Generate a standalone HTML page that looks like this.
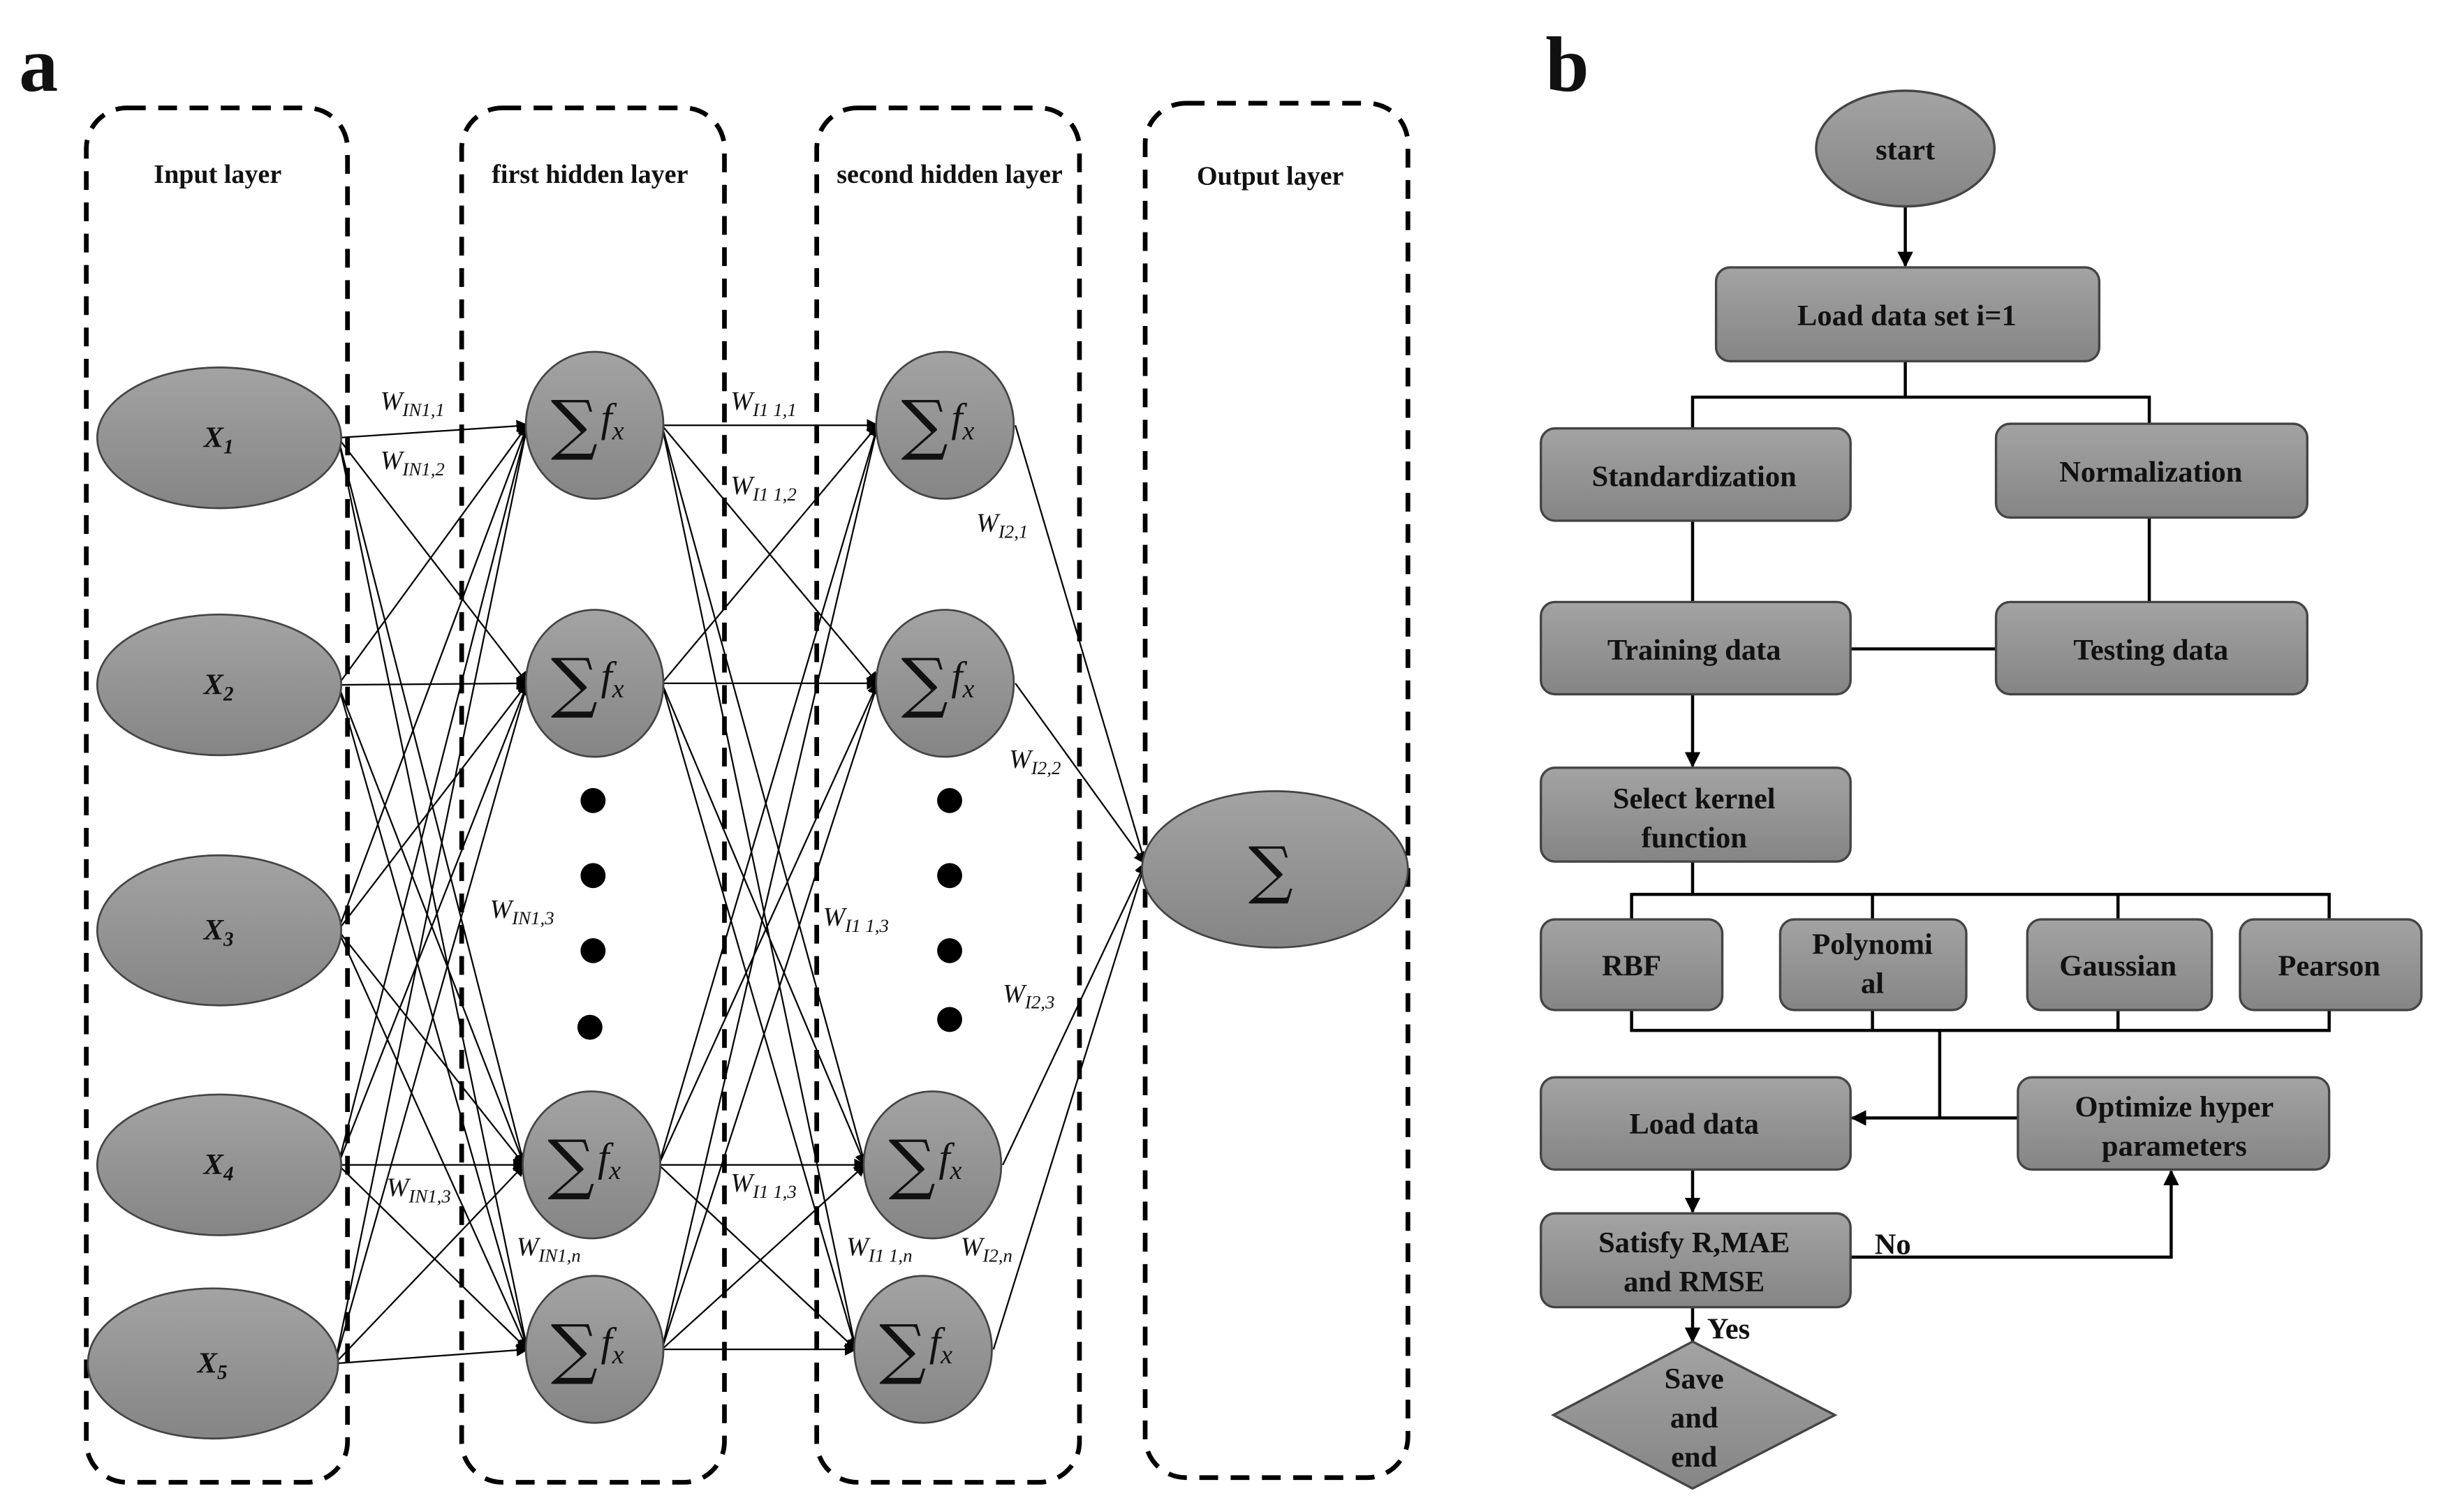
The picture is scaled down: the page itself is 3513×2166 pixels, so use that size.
<!DOCTYPE html>
<html><head><meta charset="utf-8"><style>
html,body{margin:0;padding:0;background:#fff}
svg{display:block}
.t{font-family:"Liberation Serif",serif;font-weight:bold;fill:#111}
.w{font-family:"Liberation Serif",serif;font-style:italic;fill:#111;font-size:17px}
.w tspan.s{font-size:12px}
</style></head><body>
<svg id="s" width="3513" height="2166" viewBox="0 0 1568 967" xmlns="http://www.w3.org/2000/svg">
<defs>
<linearGradient id="g" x1="0" y1="0" x2="0" y2="1"><stop offset="0" stop-color="#a3a3a3"/><stop offset="1" stop-color="#858585"/></linearGradient>
<marker id="ar" markerWidth="8" markerHeight="8" refX="7" refY="4" orient="auto" markerUnits="userSpaceOnUse"><path d="M0,0 L8,4 L0,8 z" fill="#000"/></marker>
<marker id="ab" markerWidth="10" markerHeight="10" refX="9" refY="5" orient="auto" markerUnits="userSpaceOnUse"><path d="M0,0 L10,5 L0,10 z" fill="#000"/></marker>
</defs>
<text class="t" x="12" y="58" font-size="50">a</text>
<text class="t" x="988" y="58" font-size="50">b</text>
<g fill="none" stroke="#000" stroke-width="3" stroke-dasharray="12 8">
<rect x="55" y="69" width="167" height="879" rx="26"/>
<rect x="295" y="69" width="168" height="879" rx="26"/>
<rect x="522" y="69" width="168" height="879" rx="26"/>
<rect x="732" y="66" width="168" height="879" rx="26"/>
</g>
<g class="t" font-size="17" text-anchor="middle">
<text x="139" y="117">Input layer</text>
<text x="377" y="117">first hidden layer</text>
<text x="607" y="117">second hidden layer</text>
<text x="812" y="118">Output layer</text>
</g>
<g id="lines" stroke="#000" stroke-width="1" fill="none"></g>
<g id="nodes" stroke="#444" stroke-width="1.2" fill="url(#g)"></g>
<g fill="#000">
<circle cx="379" cy="512" r="8"/><circle cx="379" cy="560" r="8"/><circle cx="379" cy="608" r="8"/><circle cx="377" cy="657" r="8"/>
<circle cx="607" cy="512" r="8"/><circle cx="607" cy="560" r="8"/><circle cx="607" cy="608" r="8"/><circle cx="607" cy="652" r="8"/>
</g>
<g class="w">
<text x="243" y="262">W<tspan class="s" dy="4">IN1,1</tspan></text>
<text x="243" y="300">W<tspan class="s" dy="4">IN1,2</tspan></text>
<text x="313" y="587">W<tspan class="s" dy="4">IN1,3</tspan></text>
<text x="247" y="765">W<tspan class="s" dy="4">IN1,3</tspan></text>
<text x="330" y="803">W<tspan class="s" dy="4">IN1,n</tspan></text>
<text x="467" y="262">W<tspan class="s" dy="4">I1 1,1</tspan></text>
<text x="467" y="316">W<tspan class="s" dy="4">I1 1,2</tspan></text>
<text x="526" y="592">W<tspan class="s" dy="4">I1 1,3</tspan></text>
<text x="467" y="762">W<tspan class="s" dy="4">I1 1,3</tspan></text>
<text x="541" y="803">W<tspan class="s" dy="4">I1 1,n</tspan></text>
<text x="624" y="340">W<tspan class="s" dy="4">I2,1</tspan></text>
<text x="645" y="491">W<tspan class="s" dy="4">I2,2</tspan></text>
<text x="641" y="641">W<tspan class="s" dy="4">I2,3</tspan></text>
<text x="614" y="803">W<tspan class="s" dy="4">I2,n</tspan></text>
</g>
<g id="labels"></g>

<g stroke="#000" stroke-width="2" fill="none">
<line x1="1218" y1="132" x2="1218" y2="170" marker-end="url(#ab)"/>
<polyline points="1218,231 1218,254"/>
<polyline points="1082,274 1082,254 1374,254 1374,271"/>
<line x1="1082" y1="333" x2="1082" y2="385"/>
<line x1="1374" y1="331" x2="1374" y2="385"/>
<line x1="1183" y1="415" x2="1276" y2="415"/>
<line x1="1082" y1="444" x2="1082" y2="490" marker-end="url(#ab)"/>
<line x1="1082" y1="551" x2="1082" y2="572"/>
<polyline points="1043,588 1043,572 1489,572 1489,588"/>
<line x1="1197" y1="572" x2="1197" y2="588"/>
<line x1="1354" y1="572" x2="1354" y2="588"/>
<polyline points="1043,646 1043,659 1489,659 1489,646"/>
<line x1="1197" y1="646" x2="1197" y2="659"/>
<line x1="1354" y1="646" x2="1354" y2="659"/>
<line x1="1240" y1="659" x2="1240" y2="715"/>
<line x1="1290" y1="715" x2="1184" y2="715" marker-end="url(#ab)"/>
<line x1="1082" y1="748" x2="1082" y2="775" marker-end="url(#ab)"/>
<polyline points="1183,804 1388,804 1388,749" marker-end="url(#ab)"/>
<line x1="1082" y1="836" x2="1082" y2="858" marker-end="url(#ab)"/>
</g>
<g stroke="#444" stroke-width="1.5" fill="url(#g)">
<ellipse cx="1218" cy="95" rx="57" ry="37"/>
<rect x="1097" y="171" width="245" height="60" rx="9"/>
<rect x="985" y="274" width="198" height="59" rx="9"/>
<rect x="1276" y="271" width="199" height="60" rx="9"/>
<rect x="985" y="385" width="198" height="59" rx="9"/>
<rect x="1276" y="385" width="199" height="59" rx="9"/>
<rect x="985" y="491" width="198" height="60" rx="9"/>
<rect x="985" y="588" width="116" height="58" rx="9"/>
<rect x="1138" y="588" width="119" height="58" rx="9"/>
<rect x="1296" y="588" width="118" height="58" rx="9"/>
<rect x="1432" y="588" width="116" height="58" rx="9"/>
<rect x="985" y="689" width="198" height="59" rx="9"/>
<rect x="1290" y="689" width="199" height="59" rx="9"/>
<rect x="985" y="776" width="198" height="60" rx="9"/>
<polygon points="1082,858 1173,905 1082,952 993,905"/>
</g>
<g class="t" font-size="19" text-anchor="middle">
<text x="1218" y="102">start</text>
<text x="1219" y="208">Load data set i=1</text>
<text x="1083" y="311">Standardization</text>
<text x="1375" y="308">Normalization</text>
<text x="1083" y="422">Training data</text>
<text x="1375" y="422">Testing data</text>
<text x="1083" y="517">Select kernel</text>
<text x="1083" y="542">function</text>
<text x="1043" y="624">RBF</text>
<text x="1197" y="610">Polynomi</text>
<text x="1197" y="635">al</text>
<text x="1354" y="624">Gaussian</text>
<text x="1489" y="624">Pearson</text>
<text x="1083" y="725">Load data</text>
<text x="1390" y="714">Optimize hyper</text>
<text x="1390" y="739">parameters</text>
<text x="1083" y="801">Satisfy R,MAE</text>
<text x="1083" y="826">and RMSE</text>
<text x="1083" y="888">Save</text>
<text x="1083" y="913">and</text>
<text x="1083" y="938">end</text>
<text x="1210" y="802">No</text>
<text x="1105" y="856">Yes</text>
</g>
</svg>
<script>
var NS="http://www.w3.org/2000/svg";
function el(p,t,a){var e=document.createElementNS(NS,t);for(var k in a)e.setAttribute(k,a[k]);p.appendChild(e);return e;}
var L=document.getElementById("lines"),N=document.getElementById("nodes"),LB=document.getElementById("labels");
var inp=[[140,280,78,45],[140,438,78,45],[140,595,78,48],[140,745,78,45],[136,872,80,48]];
var h1=[[380,272],[380,437],[378,745],[380,863]];
var h2=[[604,272],[604,437],[596,745],[590,863]];
inp.forEach(function(a){h1.forEach(function(b){el(L,"line",{x1:a[0]+a[2]-2,y1:a[1],x2:b[0]-43,y2:b[1],"marker-end":"url(#ar)"});});});
h1.forEach(function(a){h2.forEach(function(b){el(L,"line",{x1:a[0]+43,y1:a[1],x2:b[0]-43,y2:b[1],"marker-end":"url(#ar)"});});});
h2.forEach(function(a){el(L,"line",{x1:a[0]+45,y1:a[1],x2:732,y2:552,"marker-end":"url(#ar)"});});
var names=["1","2","3","4","5"];
inp.forEach(function(a,i){el(N,"ellipse",{cx:a[0],cy:a[1],rx:a[2],ry:a[3]});
 var t=el(LB,"text",{x:a[0]-10,y:a[1]+6,"class":"t","font-size":"19","font-style":"italic"});t.textContent="X";
 var s=el(t,"tspan",{dy:"4","font-size":"13"});s.textContent=names[i];});
h1.concat(h2).forEach(function(a){el(N,"ellipse",{cx:a[0],cy:a[1],rx:44,ry:47});
 var t=el(LB,"text",{x:a[0]-28,y:a[1]+14,"font-family":"DejaVu Serif,serif","font-size":"42",fill:"#111"});t.textContent="\u2211";
 var f=el(LB,"text",{x:a[0]+4,y:a[1]+4,"font-family":"Liberation Serif,serif","font-style":"italic","font-size":"26",fill:"#111"});f.textContent="f";
 var s=el(f,"tspan",{dy:"5","font-size":"17"});s.textContent="x";});
el(N,"ellipse",{cx:815,cy:556,rx:85,ry:50});
var t=el(LB,"text",{x:798,y:570,"font-family":"DejaVu Serif,serif","font-size":"40",fill:"#111"});t.textContent="\u2211";
</script>
</body></html>
